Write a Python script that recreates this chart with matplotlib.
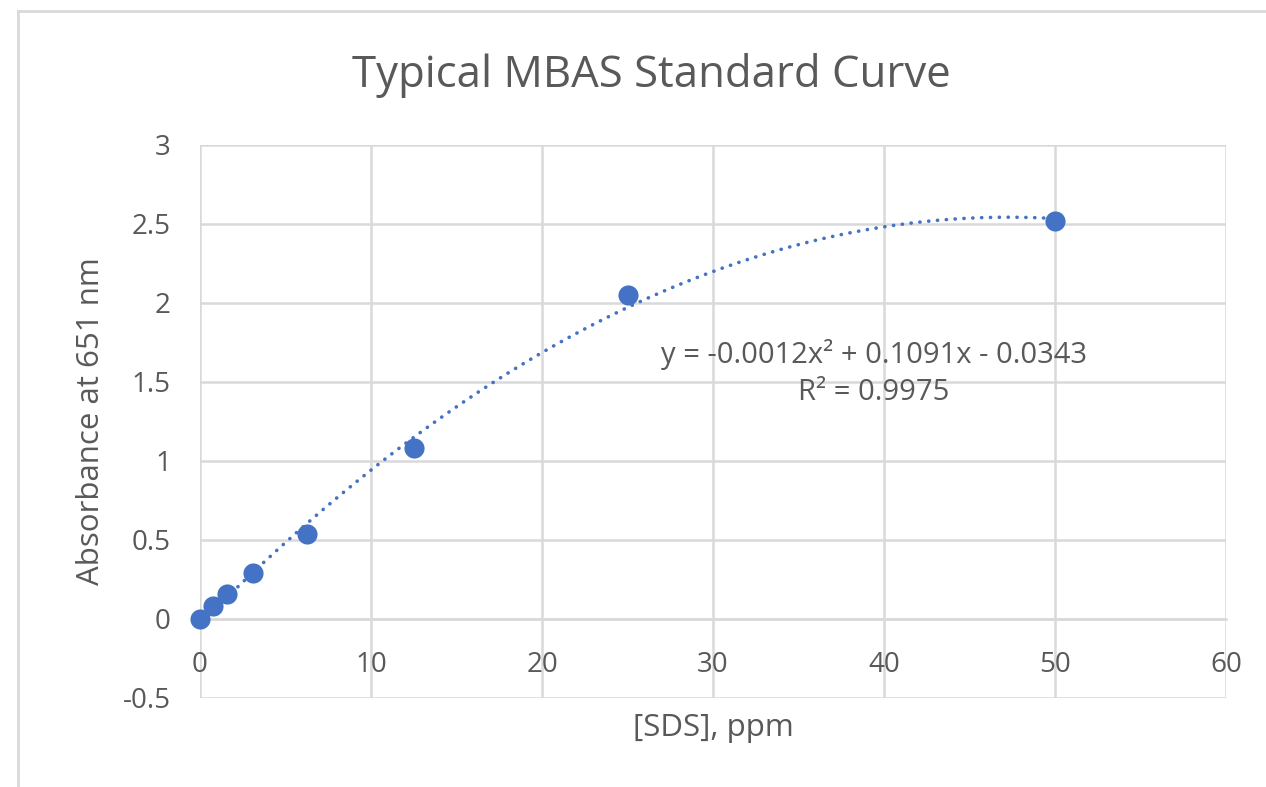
import numpy as np
import matplotlib
matplotlib.use("Agg")
import matplotlib.pyplot as plt
from matplotlib.lines import Line2D

# Data
sds_ppm = [0, 0.78125, 1.5625, 3.125, 6.25, 12.5, 25, 50]
absorbance = [0.0, 0.08, 0.155, 0.29, 0.54, 1.08, 2.05, 2.52]
x_ticks = [0, 10, 20, 30, 40, 50, 60]
y_ticks = [-0.5, 0, 0.5, 1, 1.5, 2, 2.5, 3]
y_tick_labels = ["-0.5", "0", "0.5", "1", "1.5", "2", "2.5", "3"]
equation = "y = -0.0012x² + 0.1091x - 0.0343"
r_squared = "R² = 0.9975"

text_color = "#595959"
grid_color = "#D9D9D9"
point_color = "#4472C4"

plt.rcParams['font.family'] = ['Open Sans', 'DejaVu Sans']

fig = plt.figure(figsize=(12.66, 7.87), dpi=100)
ax = fig.add_axes([0.158, 0.1131, 0.8104, 0.7027])

# 2nd order polynomial trendline
coef = np.polyfit(sds_ppm, absorbance, 2)
xs = np.linspace(min(sds_ppm), max(sds_ppm), 300)
ax.plot(xs, np.polyval(coef, xs), color=point_color, lw=2.6,
        linestyle=(0, (0.05, 2.4)), dash_capstyle='round', zorder=3)

ax.plot(sds_ppm, absorbance, 'o', color=point_color, markersize=14.5,
        markeredgewidth=0, zorder=4, clip_on=False)

ax.set_xlim(0, 60)
ax.set_ylim(-0.5, 3)
ax.set_xticks(x_ticks)
ax.set_yticks(y_ticks)
ax.set_yticklabels(y_tick_labels)

ax.grid(True, color=grid_color, lw=1.8)
ax.set_axisbelow(True)
for side in ['top', 'right', 'left']:
    ax.spines[side].set_visible(False)
ax.spines['bottom'].set_position(('data', 0))
ax.spines['bottom'].set_color(grid_color)
ax.spines['bottom'].set_linewidth(1.8)

ax.tick_params(axis='x', length=0, pad=23, labelsize=20, labelcolor=text_color)
ax.tick_params(axis='y', length=0, pad=21, labelsize=20, labelcolor=text_color)

ax.set_ylabel("Absorbance at 651 nm", fontsize=22.5, color=text_color, labelpad=12)
fig.text(713 / 1266, 1 - 728 / 787, "[SDS], ppm", fontsize=22.5, color=text_color,
         ha='center', va='center')

fig.text(651 / 1266, 1 - 75 / 787, "Typical MBAS Standard Curve", fontsize=31.5,
         color=text_color, ha='center', va='center')

fig.text(874 / 1266, 1 - 355 / 787, equation, fontsize=21, color=text_color,
         ha='center', va='center')
fig.text(874 / 1266, 1 - 393 / 787, r_squared, fontsize=21, color=text_color,
         ha='center', va='center')

# Chart border (left and top edges visible)
fig.add_artist(Line2D([18 / 1266, 18 / 1266], [0, 1 - 11 / 787],
                      transform=fig.transFigure, color=grid_color, lw=2))
fig.add_artist(Line2D([18 / 1266, 1], [1 - 11 / 787, 1 - 11 / 787],
                      transform=fig.transFigure, color=grid_color, lw=2))

fig.savefig("out.png", dpi=100)
